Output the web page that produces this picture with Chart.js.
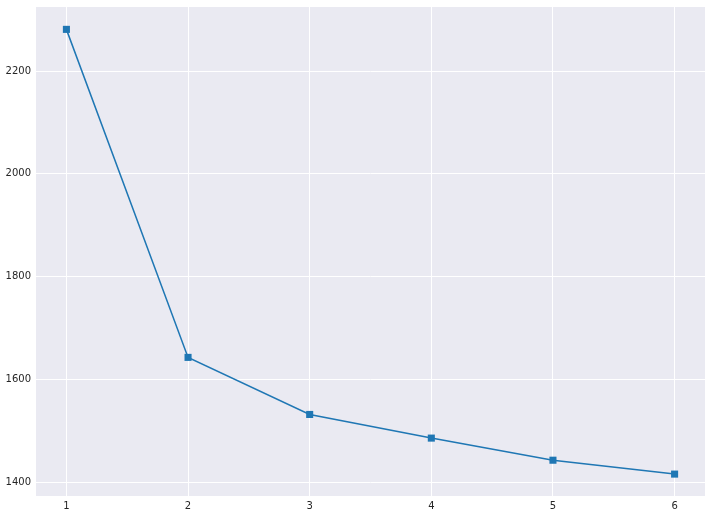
<!DOCTYPE html>
<html>
<head>
<meta charset="utf-8">
<script src="https://cdn.jsdelivr.net/npm/chart.js@4/dist/chart.umd.min.js"></script>
<style>
  html, body { margin: 0; padding: 0; background: #ffffff; }
  #wrap { width: 712px; height: 517px; }
</style>
</head>
<body>
<div id="wrap"><canvas id="chart"></canvas></div>
<script>
// values
const clusters = [1, 2, 3, 4, 5, 6];
const scores = [2281, 1643, 1532, 1486, 1443, 1416];
const xTicks = [1, 2, 3, 4, 5, 6];
const yTicks = [1400, 1600, 1800, 2000, 2200];

const points = clusters.map((k, i) => ({ x: k, y: scores[i] }));

// seaborn-like darkgrid panel
const panelBg = {
    id: 'panelBg',
    beforeDraw(chart) {
        const { ctx, chartArea: a } = chart;
        ctx.save();
        ctx.fillStyle = '#EAEAF2';
        ctx.fillRect(a.left, a.top, a.right - a.left, a.bottom - a.top);
        ctx.restore();
    }
};

const tickFont = { family: 'DejaVu Sans', size: 10 };

new Chart(document.getElementById('chart').getContext('2d'), {
    type: 'scatter',
    data: {
        datasets: [{
            data: points,
            showLine: true,
            borderColor: '#1f77b4',
            backgroundColor: '#1f77b4',
            borderWidth: 1.5,
            pointStyle: 'rect',
            pointRadius: 5,
            pointBorderWidth: 0,
            pointHoverRadius: 5,
            tension: 0
        }]
    },
    options: {
        responsive: true,
        maintainAspectRatio: false,
        animation: false,
        devicePixelRatio: 1,
        layout: { padding: { top: 7, right: 7, left: 0, bottom: 0 } },
        scales: {
            x: {
                type: 'linear',
                min: 0.75,
                max: 6.25,
                afterBuildTicks: (s) => { s.ticks = xTicks.map(v => ({ value: v })); },
                afterFit: (s) => { s.height = 21; s.paddingLeft = 0; s.paddingRight = 0; },
                grid: { color: '#ffffff', lineWidth: 1, drawTicks: false },
                border: { display: false },
                ticks: { color: '#262626', font: tickFont, padding: 4, callback: (v) => String(v) }
            },
            y: {
                type: 'linear',
                min: 1373.4,
                max: 2324.5,
                afterBuildTicks: (s) => { s.ticks = yTicks.map(v => ({ value: v })); },
                afterFit: (s) => { s.width = 36; s.paddingTop = 0; s.paddingBottom = 0; },
                grid: { color: '#ffffff', lineWidth: 1, drawTicks: false },
                border: { display: false },
                ticks: { color: '#262626', font: tickFont, padding: 5, callback: (v) => String(v) }
            }
        },
        plugins: {
            legend: { display: false },
            tooltip: { enabled: false }
        }
    },
    plugins: [panelBg]
});
</script>
</body>
</html>
